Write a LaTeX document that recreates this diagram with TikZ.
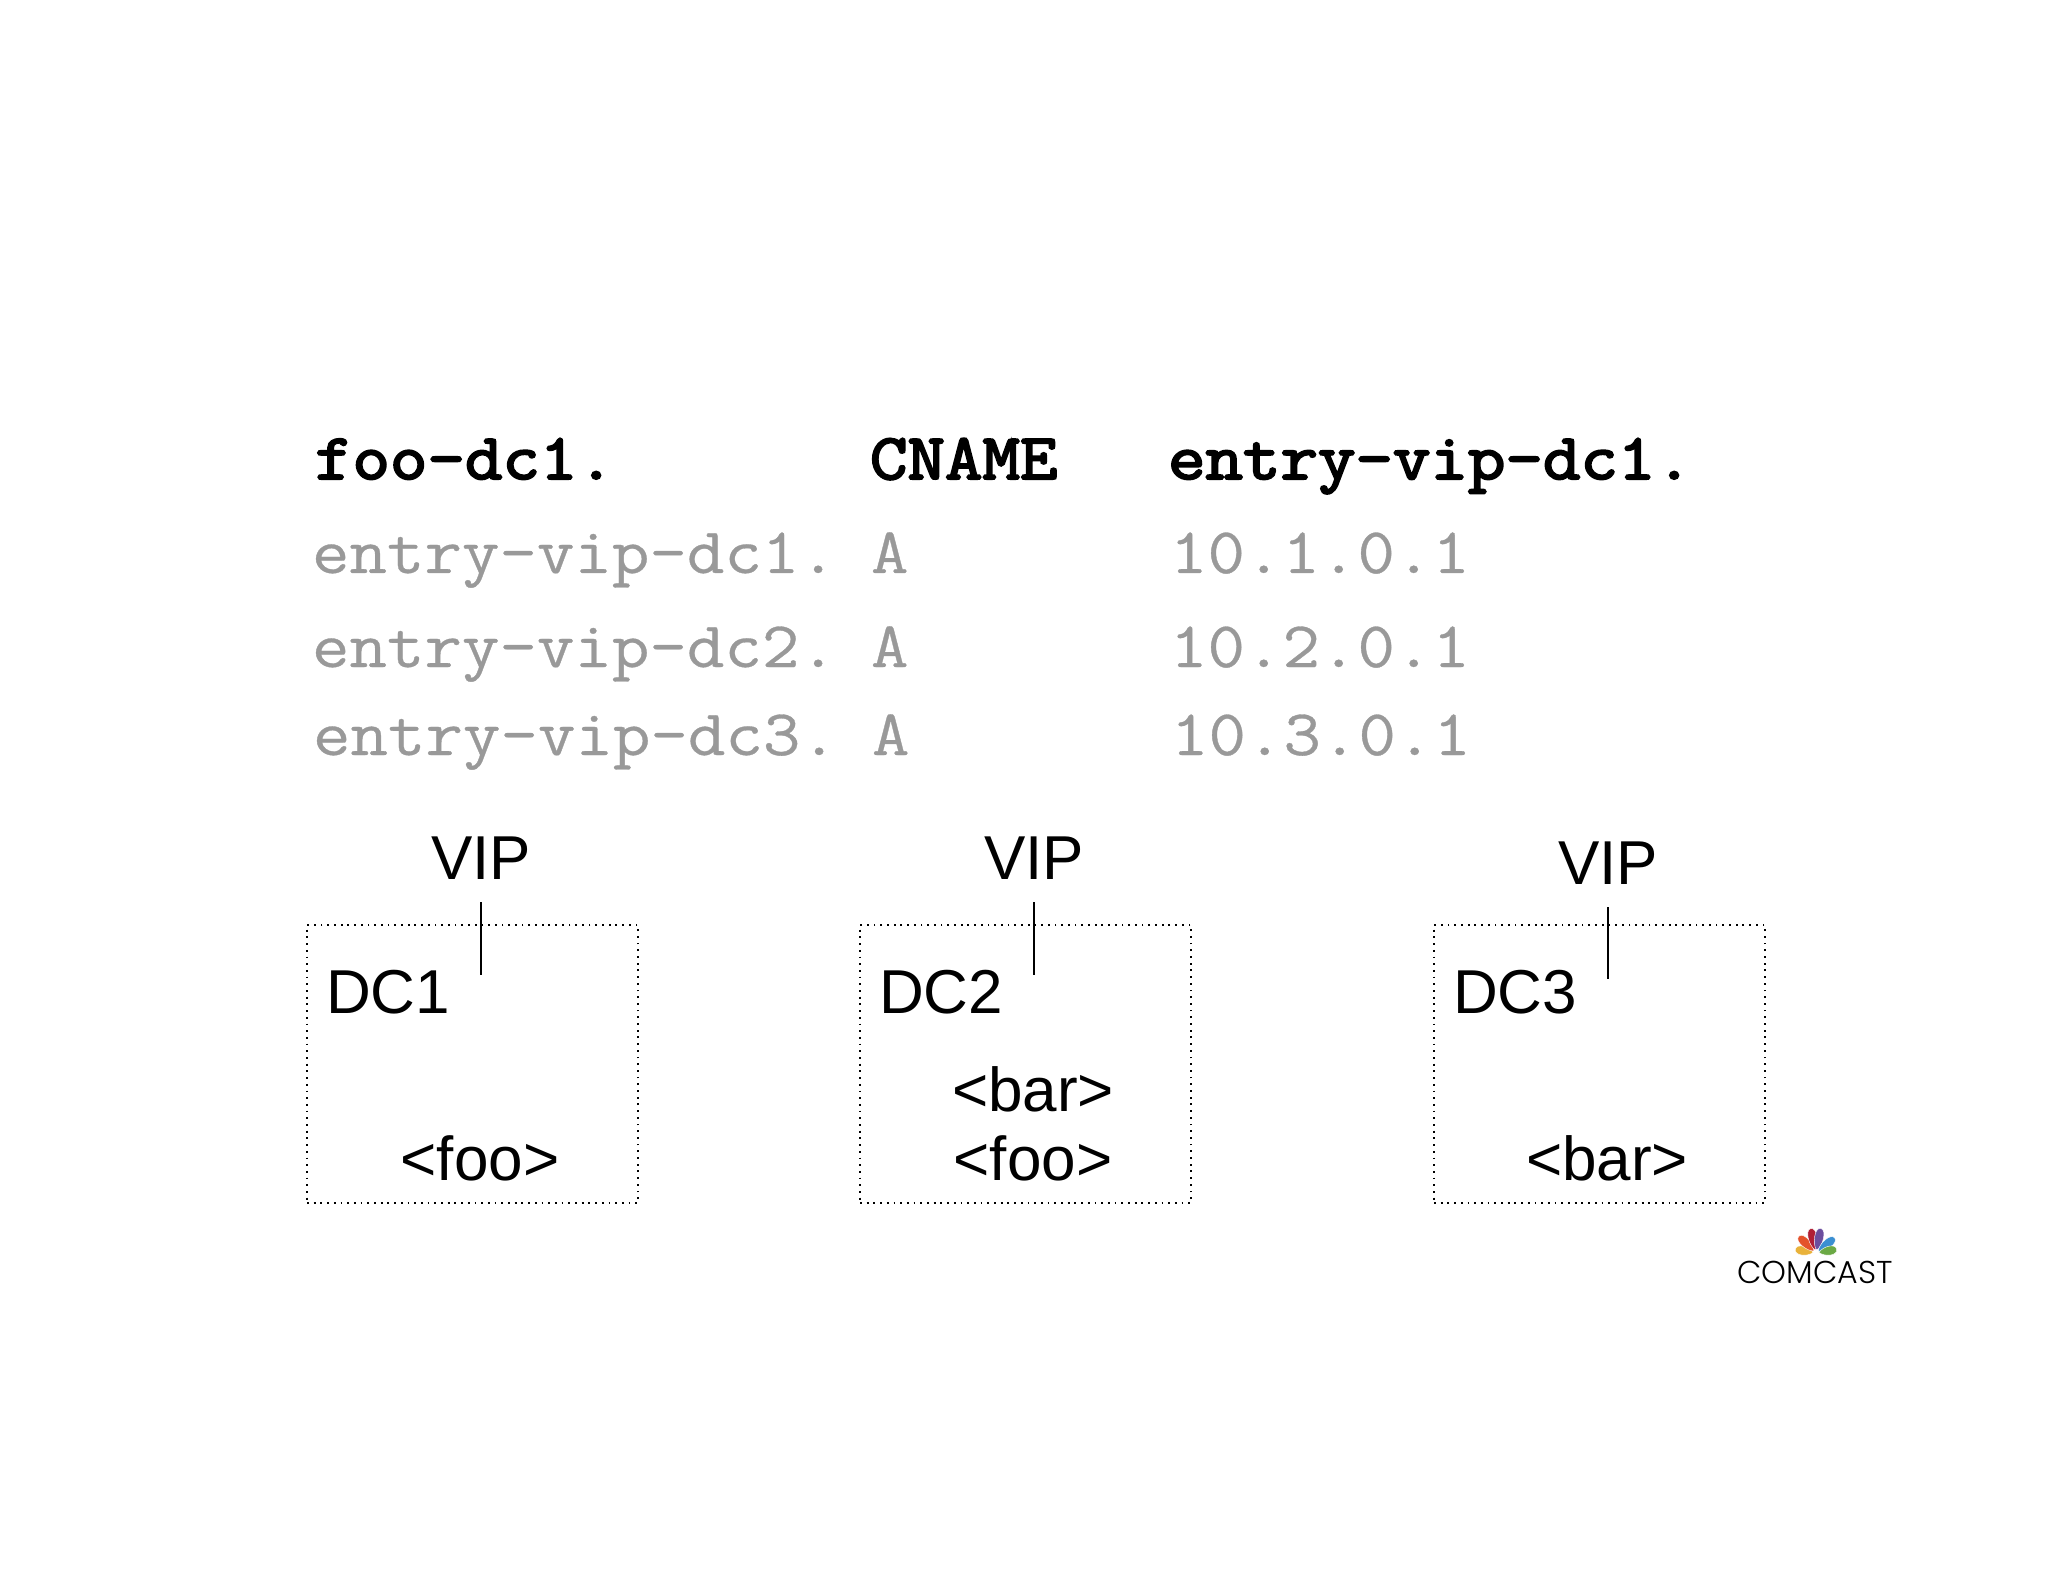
\documentclass[tikz,border=0pt]{standalone}
\usepackage{fontspec}
\setmainfont{Liberation Sans}
\newfontfamily\recfont[FakeStretch=1.12,FakeBold=0.5]{Latin Modern Mono}
\newfontfamily\hdrfont[FakeStretch=1.12,FakeBold=3.2]{Latin Modern Mono}
\newfontfamily\logofont{Poppins Light}
\usepackage{tikz}
\usetikzlibrary{positioning}
\usetikzlibrary{calc}
\definecolor{recgray}{HTML}{999999}
\definecolor{fyellow}{HTML}{E9B23A}
\definecolor{forange}{HTML}{E4522B}
\definecolor{fred}{HTML}{B01F35}
\definecolor{fpurple}{HTML}{6B4E9E}
\definecolor{fblue}{HTML}{3B8FD2}
\definecolor{fgreen}{HTML}{6BA945}

\begin{document}
\begin{tikzpicture}[x=0.5pt,y=-0.5pt,every node/.style={inner sep=0,outer sep=0},
    hdr/.style={anchor=base west,font=\hdrfont\fontsize{32.5pt}{32.5pt}\selectfont},
    rec/.style={anchor=base west,text=recgray,font=\recfont\fontsize{32.5pt}{32.5pt}\selectfont},
    lbl/.style={font=\fontsize{31pt}{31pt}\selectfont},
    vip/.style={lbl,anchor=base,outer sep=11.5pt},
    dc/.style={lbl,anchor=base west},
    site/.style={lbl,anchor=base},
    dcbox/.style={draw,line width=0.9pt,dash pattern=on 0.9pt off 2.45pt,minimum width=165.5pt,minimum height=139pt,anchor=north west}]
    \useasboundingbox (0,0) rectangle (2048,1582);
    \node (R1) [hdr] at (315,479) {foo-dc1.};
    \node (R2) [rec] at (312,573) {entry-vip-dc1.};
    \node (R3) [rec] at (312,667) {entry-vip-dc2.};
    \node (R4) [rec] at (313,755) {entry-vip-dc3.};
    \node (T1) [hdr] at (870,479) {CNAME};
    \node (T2) [rec] at (871,573) {A};
    \node (T3) [rec] at (871,667) {A};
    \node (T4) [rec] at (872,755) {A};
    \node (A1) [hdr] at (1168,479) {entry-vip-dc1.};
    \node (A2) [rec] at (1170,573) {10.1.0.1};
    \node (A3) [rec] at (1170,667) {10.2.0.1};
    \node (A4) [rec] at (1171,755) {10.3.0.1};
    \node (B1) [dcbox] at (307,925) {};
    \node (B2) [dcbox] at (860,925) {};
    \node (B3) [dcbox] at (1434,925) {};
    \node (V1) [vip] at (481,879) {VIP};
    \node (V2) [vip] at (1034,879) {VIP};
    \node (V3) [vip] at (1608,884) {VIP};
    \coordinate (E1) at (481,975);
    \coordinate (E2) at (1034,975);
    \coordinate (E3) at (1608,979);
    \node (D1) [dc] at (326,1013) {DC1};
    \node (D2) [dc] at (879,1013) {DC2};
    \node (D3) [dc] at (1453,1013) {DC3};
    \node (S1) [site] at (480,1180) {<foo>};
    \node (S2) [site] at (1033,1111) {<bar>};
    \node (S3) [site] at (1033,1180) {<foo>};
    \node (S4) [site] at (1607,1180) {<bar>};
    \path[draw,line width=0.7pt]
        (V1.south) edge (E1)
        (V2.south) edge (E2)
        (V3.south) edge (E3);
    % logo
    \coordinate (L1) at (1816,1253);
    \foreach \ang/\col/\len in {170/fyellow/10.5,136/forange/12,102/fred/12.5,79/fpurple/12.5,39/fblue/12,10/fgreen/10.5}
        \filldraw[fill=\col,draw=white,line width=0.2pt,shift={(L1)},rotate=\ang] (1.5pt,0pt) .. controls (4pt,2.8pt) and (\len pt,3.2pt) .. (\len pt,0pt) .. controls (\len pt,-3.2pt) and (4pt,-2.8pt) .. (1.5pt,0pt);
    \node (L2) [anchor=base,font=\logofont\fontsize{15.8pt}{15.8pt}\selectfont] at (1815,1283) {COMCAST};
\end{tikzpicture}
\end{document}
